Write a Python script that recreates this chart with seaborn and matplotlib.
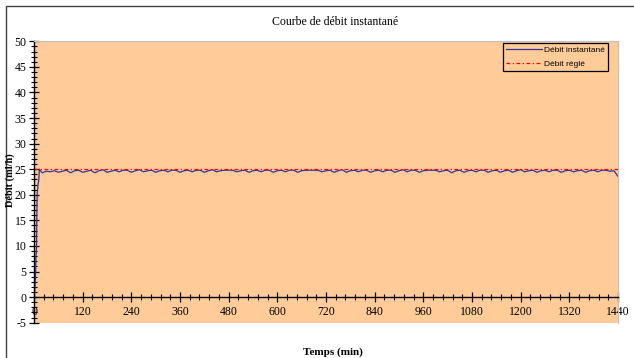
import numpy as np
import pandas as pd
import matplotlib
matplotlib.use("Agg")
import matplotlib.pyplot as plt
import matplotlib.patches as patches
from matplotlib.ticker import MultipleLocator
import seaborn as sns

# =====================================================
# DATA
# =====================================================

temps_montee = [0, 2, 4, 5, 6, 7, 8, 9, 10, 12, 13, 15]
debit_montee = [0, 1.5, 5, 8.5, 8.6, 16, 20.5, 21, 22, 23, 25, 24.8]

temps_regime = list(np.arange(20, 1440, 10)) + [1440]
debit_regime = [
    24.3, 24.6, 24.5, 24.7, 24.4, 24.6, 24.8, 24.3, 24.7, 24.8,
    24.4, 24.6, 24.8, 24.3, 24.7, 24.9, 24.4, 24.6, 24.8, 24.5,
    24.8, 24.8, 24.4, 24.7, 24.9, 24.5, 24.7, 24.8, 24.4, 24.7,
    24.8, 24.5, 24.8, 24.8, 24.4, 24.7, 24.8, 24.5, 24.8, 24.8,
    24.4, 24.7, 24.9, 24.5, 24.7, 24.8, 24.8, 24.8, 24.5, 24.7,
    24.8, 24.4, 24.7, 24.8, 24.5, 24.8, 24.8, 24.4, 24.7, 24.8,
    24.5, 24.8, 24.8, 24.4, 24.7, 24.8, 24.8, 24.8, 24.8, 24.5,
    24.7, 24.8, 24.4, 24.7, 24.9, 24.4, 24.7, 24.8, 24.5, 24.8,
    24.8, 24.4, 24.7, 24.8, 24.5, 24.8, 24.8, 24.4, 24.7, 24.9,
    24.5, 24.8, 24.8, 24.4, 24.7, 24.8, 24.8, 24.8, 24.5, 24.7,
    24.8, 24.3, 24.7, 24.8, 24.4, 24.7, 24.8, 24.5, 24.8, 24.8,
    24.4, 24.7, 24.8, 24.4, 24.7, 24.8, 24.4, 24.7, 24.9, 24.5,
    24.7, 24.8, 24.4, 24.7, 24.8, 24.5, 24.8, 24.8, 24.4, 24.7,
    24.8, 24.5, 24.7, 24.8, 24.4, 24.7, 24.8, 24.5, 24.8, 24.8,
    24.6, 24.7,
    23.6
]

temps_consigne = [0, 1440]
debit_consigne = [25, 25]

df = pd.DataFrame({
    "Temps": temps_montee + temps_regime,
    "Debit": debit_montee + debit_regime
})

df_consigne = pd.DataFrame({
    "Temps": temps_consigne,
    "Debit": debit_consigne
})

# =====================================================
# FIGURE
# =====================================================

plt.rcParams["font.family"] = ["Liberation Serif", "DejaVu Serif"]
plt.rcParams["axes.unicode_minus"] = False

W, H = 634, 358
fig = plt.figure(figsize=(W / 100, H / 100), dpi=100)
fig.patch.set_facecolor("white")

ax = fig.add_axes([
    34 / W,
    1 - 322.7 / H,
    (618 - 34) / W,
    (322.7 - 41.3) / H
])
ax.set_facecolor("#FFCC99")

sns.lineplot(
    data=df,
    x="Temps",
    y="Debit",
    color="#3333A0",
    linewidth=0.9,
    label="Débit instantané",
    ax=ax
)

sns.lineplot(
    data=df_consigne,
    x="Temps",
    y="Debit",
    color="#FF0000",
    linewidth=0.9,
    linestyle=(0, (3, 2, 1, 2)),
    label="Débit réglé",
    ax=ax
)

ax.set_xlim(0, 1440)
ax.set_ylim(-5, 50)

# axes
ax.spines["bottom"].set_position(("data", 0))
ax.spines["bottom"].set_color("black")
ax.spines["left"].set_color("black")
ax.spines["left"].set_linewidth(1.0)
ax.spines["bottom"].set_linewidth(1.0)
ax.spines["right"].set_color("#C0C0C0")
ax.spines["top"].set_color("#C0C0C0")
ax.spines["right"].set_linewidth(0.8)
ax.spines["top"].set_linewidth(0.8)

# bottom frame line of plot area
ax.add_patch(patches.Rectangle(
    (0, 0), 1, 1, transform=ax.transAxes,
    fill=False, edgecolor="#C0C0C0", linewidth=0.8, zorder=0.5
))

ax.xaxis.set_major_locator(MultipleLocator(120))
ax.xaxis.set_minor_locator(MultipleLocator(24))
ax.yaxis.set_major_locator(MultipleLocator(5))
ax.yaxis.set_minor_locator(MultipleLocator(1))

ax.tick_params(axis="both", which="major", direction="inout",
               length=7, width=0.9, labelsize=8.5, colors="black")
ax.tick_params(axis="both", which="minor", direction="inout",
               length=4, width=0.8)
ax.tick_params(axis="x", which="major", pad=3)
ax.tick_params(axis="y", which="major", pad=2)

ax.set_xlabel("")
ax.set_ylabel("")

# =====================================================
# TEXTS
# =====================================================

fig.text(335 / W, 1 - 22 / H, "Courbe de débit instantané",
         ha="center", va="center", fontsize=8.5)

fig.text(333 / W, 1 - 352 / H, "Temps (min)",
         ha="center", va="center", fontsize=8, fontweight="bold")

fig.text(10.5 / W, 1 - 180 / H, "Débit (ml/h)",
         ha="center", va="center", fontsize=7.5, fontweight="bold",
         rotation=90)

# outer border of the chart
fig.patches.append(patches.Rectangle(
    (6 / W, -0.1), 1.2, 1 - 6 / H + 0.1,
    transform=fig.transFigure, fill=False,
    edgecolor="#404040", linewidth=1.0
))

# =====================================================
# LEGEND
# =====================================================

leg = ax.legend(
    loc="upper right",
    bbox_to_anchor=(0.983, 0.994),
    frameon=True,
    fancybox=False,
    handlelength=4.3,
    handletextpad=0.2,
    borderpad=0.4,
    labelspacing=0.7,
    borderaxespad=0,
    prop={"family": "Liberation Sans", "size": 6}
)
leg.get_frame().set_edgecolor("black")
leg.get_frame().set_linewidth(0.9)
leg.get_frame().set_facecolor("#FFCC99")
leg.get_frame().set_alpha(1)

fig.savefig("out.png", dpi=100)
